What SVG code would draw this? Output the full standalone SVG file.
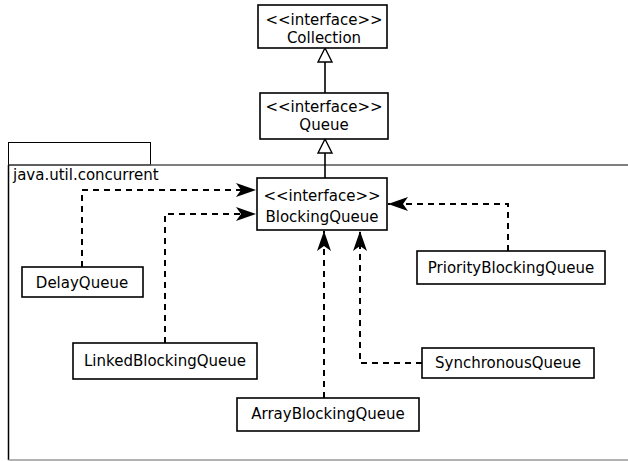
<svg xmlns="http://www.w3.org/2000/svg" width="628" height="461" viewBox="0 0 628 461">
<style>
.box{fill:#fff;stroke:#000;stroke-width:1.6}
text{font-family:"DejaVu Sans",sans-serif;font-size:15px;fill:#000;text-anchor:middle}
.dep{fill:none;stroke:#000;stroke-width:2;stroke-dasharray:6 5}
.gen{fill:none;stroke:#000;stroke-width:1.6}
</style>
<defs>
<marker id="filled" markerWidth="22" markerHeight="16" refX="20" refY="8" orient="auto" markerUnits="userSpaceOnUse">
<path d="M0,1 L20,8 L0,15 L5,8 Z" fill="#000"/>
</marker>
<marker id="hollow" markerWidth="18" markerHeight="18" refX="15" refY="8" orient="auto" markerUnits="userSpaceOnUse">
<path d="M1,1 L15,8 L1,15 Z" fill="#fff" stroke="#000" stroke-width="1.4"/>
</marker>
</defs>
<g id="package">
<rect x="8.5" y="142.5" width="142" height="22.5" fill="#fff" stroke="#000" stroke-width="1"/>
<line x1="8.5" y1="165" x2="628" y2="165" stroke="#555" stroke-width="1.5"/>
<line x1="8.5" y1="165" x2="8.5" y2="460" stroke="#000" stroke-width="1.5"/>
<line x1="8.5" y1="460" x2="628" y2="460" stroke="#999" stroke-width="1.5"/>
<text x="13" y="180" style="text-anchor:start">java.util.concurrent</text>
</g>
<g id="connectors">
<line class="gen" x1="325" y1="93" x2="325" y2="48" marker-end="url(#hollow)"/>
<line class="gen" x1="325" y1="178" x2="325" y2="139" marker-end="url(#hollow)"/>
<polyline class="dep" points="82,267 82,190 256,190" marker-end="url(#filled)"/>
<polyline class="dep" points="165,343 165,214 256,214" marker-end="url(#filled)"/>
<polyline class="dep" points="508,251 508,204 388,204" marker-end="url(#filled)"/>
<line class="dep" x1="324" y1="398" x2="324" y2="231" marker-end="url(#filled)"/>
<polyline class="dep" points="422,363 360,363 360,231" marker-end="url(#filled)"/>
</g>
<g id="collection">
<rect class="box" x="258" y="5" width="129" height="43"/>
<text x="324" y="25">&lt;&lt;interface&gt;&gt;</text>
<text x="324" y="43">Collection</text>
</g>
<g id="queue">
<rect class="box" x="260" y="93" width="128" height="46"/>
<text x="324" y="112">&lt;&lt;interface&gt;&gt;</text>
<text x="324" y="130">Queue</text>
</g>
<g id="blockingqueue">
<rect class="box" x="257" y="178" width="130" height="52"/>
<text x="322" y="201">&lt;&lt;interface&gt;&gt;</text>
<text x="322" y="222">BlockingQueue</text>
</g>
<g id="delayqueue">
<rect class="box" x="22" y="267" width="121" height="30"/>
<text x="82" y="288">DelayQueue</text>
</g>
<g id="linkedblockingqueue">
<rect class="box" x="73" y="343" width="184" height="36"/>
<text x="165" y="366">LinkedBlockingQueue</text>
</g>
<g id="arrayblockingqueue">
<rect class="box" x="237" y="398" width="182" height="33"/>
<text x="328" y="419">ArrayBlockingQueue</text>
</g>
<g id="synchronousqueue">
<rect class="box" x="422" y="348" width="172" height="30"/>
<text x="508" y="368">SynchronousQueue</text>
</g>
<g id="priorityblockingqueue">
<rect class="box" x="417" y="251" width="188" height="33"/>
<text x="511" y="273">PriorityBlockingQueue</text>
</g>
</svg>
